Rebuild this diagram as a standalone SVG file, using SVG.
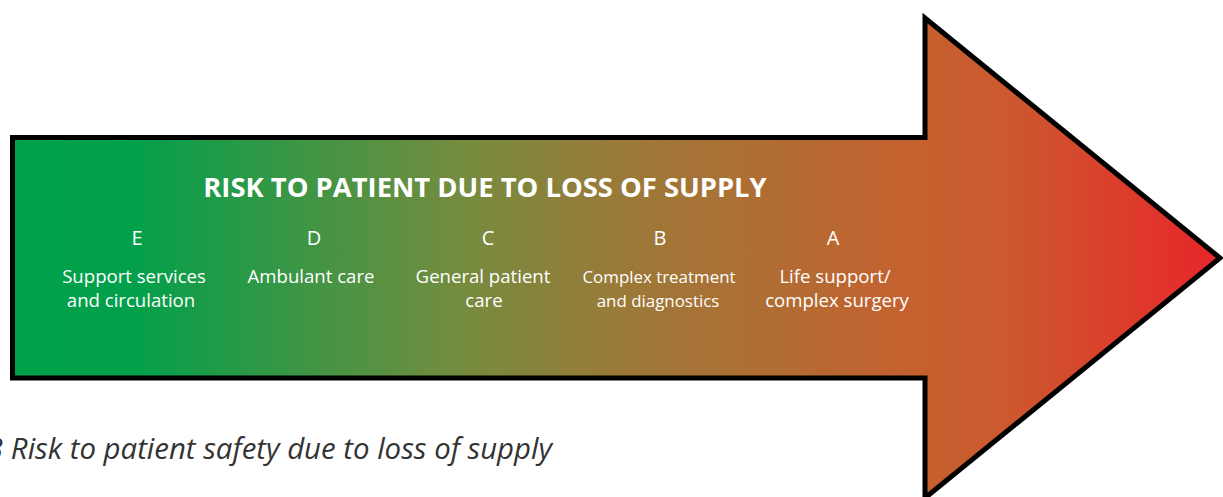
<svg xmlns="http://www.w3.org/2000/svg" width="1223" height="497" viewBox="0 0 1223 497">
<style>
.t{font-family:"Open Sans","Noto Sans",sans-serif;fill:#fff;text-anchor:middle}
.title{font-size:27.4px;font-weight:700}
.let{font-size:20px}
.lab{font-size:18.6px}
.labs{font-size:16.9px}
.cap{font-family:"Open Sans","Noto Sans",sans-serif;font-style:italic;font-size:29.4px;fill:#333}
</style>
<defs>
<linearGradient id="g" gradientUnits="userSpaceOnUse" x1="12" y1="0" x2="1220" y2="0">
<stop offset="0" stop-color="#00a04b"/>
<stop offset="0.1" stop-color="#02a04b"/>
<stop offset="0.37" stop-color="#748c3f"/>
<stop offset="0.5" stop-color="#9a7a38"/>
<stop offset="0.74" stop-color="#c4612f"/>
<stop offset="0.82" stop-color="#cc5a2e"/>
<stop offset="1" stop-color="#e8252a"/>
</linearGradient>
</defs>
<g id="arrow">
<polygon points="12.5,137.5 925,137.5 925,18 1220,258 925,498 925,378 12.5,378" fill="url(#g)" stroke="#000" stroke-width="5"/>
</g>
<g id="title"><text class="t title" x="485" y="197">RISK TO PATIENT DUE TO LOSS OF SUPPLY</text></g>
<g id="E"><text class="t let" x="137" y="245">E</text><text class="t lab" x="134" y="283">Support services</text><text class="t lab" x="131" y="307">and circulation</text></g>
<g id="D"><text class="t let" x="314" y="245">D</text><text class="t lab" x="311" y="283">Ambulant care</text></g>
<g id="C"><text class="t let" x="488" y="245">C</text><text class="t lab" x="483" y="283">General patient</text><text class="t lab" x="484" y="307">care</text></g>
<g id="B"><text class="t let" x="660" y="245">B</text><text class="t labs" x="659" y="283">Complex treatment</text><text class="t labs" x="658" y="307">and diagnostics</text></g>
<g id="A"><text class="t let" x="833" y="245">A</text><text class="t lab" x="835" y="283">Life support/</text><text class="t lab" x="837" y="307">complex surgery</text></g>
<g id="caption"><text class="cap" x="-13" y="459">3 Risk to patient safety due to loss of supply</text></g>
</svg>
